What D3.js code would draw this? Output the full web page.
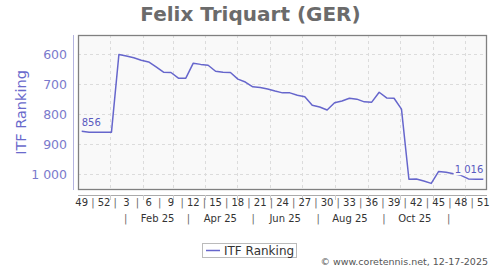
<!DOCTYPE html>
<html><head><meta charset="utf-8">
<script src="https://cdn.jsdelivr.net/npm/d3@7"></script>
<style>body{margin:0;background:#fff}svg{display:block;font-family:"DejaVu Sans",sans-serif}</style>
</head><body><div id="chart"></div>
<script>
// ---- data ----
const title = "Felix Triquart (GER)";
const seriesName = "ITF Ranking";
// ISO week numbers, week 49/2024 .. week 51/2025
const weeks = [49,50,51,52,1,2,3,4,5,6,7,8,9,10,11,12,13,14,15,16,17,18,19,20,21,22,23,24,25,26,27,28,29,30,31,32,33,34,35,36,37,38,39,40,41,42,43,44,45,46,47,48,49,50,51];
const ranking = [856,859,859,859,859,600,605,611,619,625,641,659,660,679,679,629,633,636,656,659,660,682,692,708,710,715,722,728,728,736,741,769,775,785,761,755,746,749,758,759,726,745,746,782,1016,1015,1022,1030,990,993,998,1003,1015,1016,1016];
const yTicks = [600,700,800,900,1000];
const weekTickLabels = ["49","52","3","6","9","12","15","18","21","24","27","30","33","36","39","42","45","48","51"];
const monthLabels = ["Feb 25","Apr 25","Jun 25","Aug 25","Oct 25"];
const monthLabelDates = ["2025-02-15","2025-04-15","2025-06-15","2025-08-15","2025-10-15"];
const monthSepDates = ["2025-01-16","2025-03-16","2025-05-16","2025-07-16","2025-09-16","2025-11-16"];
const gridMonthDates = ["2025-01-01","2025-02-01","2025-03-01","2025-04-01","2025-05-01","2025-06-01","2025-07-01","2025-08-01","2025-09-01","2025-10-01","2025-11-01","2025-12-01"];
const firstWeekMonday = "2024-12-02";
const domainEnd = "2025-12-22";
const credit = "© www.coretennis.net, 12-17-2025";

// ---- layout ----
const W = 500, H = 270;
const plot = {l: 78, r: 487, t: 35, b: 190};
const lineColor = "#6666cc";
const DAY = 86400000;
const t0 = new Date(firstWeekMonday + "T00:00:00Z");
const weekDate = i => new Date(t0.getTime() + (7 * i + 3.5) * DAY);
const pd = s => new Date(s + "T00:00:00Z");

const svg = d3.select("#chart").append("svg").attr("width", W).attr("height", H);

const x = d3.scaleUtc().domain([t0, pd(domainEnd)]).range([plot.l, plot.r]);
const y = d3.scaleLinear().domain([535, 1052]).range([plot.t, plot.b]);
const loc = d3.formatLocale({decimal: ".", thousands: "\u2009", grouping: [3], currency: ["", ""]});
const fmt = v => loc.format(",")(v).replace("\u2009", " ");

// title
svg.append("text").attr("x", 250.5).attr("y", 21).attr("text-anchor", "middle")
  .attr("font-size", 20).attr("font-weight", "bold").attr("fill", "#6b6b6b").text(title);

// plot background
svg.append("rect").attr("x", plot.l).attr("y", plot.t).attr("width", plot.r - plot.l).attr("height", plot.b - plot.t)
  .attr("fill", "#f9f9f9");

// grid
const grid = svg.append("g").attr("stroke", "#dcdcdc").attr("stroke-dasharray", "3,3").attr("stroke-width", 1);
yTicks.forEach(v => grid.append("line").attr("x1", plot.l).attr("x2", plot.r)
  .attr("y1", Math.round(y(v)) + 0.5).attr("y2", Math.round(y(v)) + 0.5));
gridMonthDates.forEach(d => grid.append("line").attr("y1", plot.t).attr("y2", plot.b)
  .attr("x1", Math.round(x(pd(d))) + 0.5).attr("x2", Math.round(x(pd(d))) + 0.5));

// frame
svg.append("rect").attr("x", plot.l + 0.5).attr("y", plot.t + 0.5).attr("width", plot.r - plot.l - 1).attr("height", plot.b - plot.t - 1)
  .attr("fill", "none").attr("stroke", "#808080").attr("stroke-width", 1.3);

// y axis
svg.append("line").attr("x1", 73.5).attr("x2", 73.5).attr("y1", plot.t).attr("y2", plot.b)
  .attr("stroke", "#b4b4e0").attr("stroke-width", 1);
const yl = svg.append("g").attr("font-size", 12.5).attr("fill", "#7a7acc").attr("text-anchor", "end");
yTicks.forEach(v => yl.append("text").attr("x", 67).attr("y", y(v)).attr("dy", "0.35em").text(fmt(v)));
svg.append("text").attr("transform", `translate(26,${(plot.t + plot.b) / 2}) rotate(-90)`)
  .attr("text-anchor", "middle").attr("font-size", 14.5).attr("fill", "#6a6acc").text(seriesName);

// x axis
svg.append("line").attr("x1", plot.l).attr("x2", plot.r).attr("y1", 195.5).attr("y2", 195.5)
  .attr("stroke", "#aaa").attr("stroke-width", 1);
gridMonthDates.forEach(d => svg.append("line").attr("y1", 195).attr("y2", 200)
  .attr("x1", Math.round(x(pd(d))) + 0.5).attr("x2", Math.round(x(pd(d))) + 0.5).attr("stroke", "#ccc"));
const xl = svg.append("g").attr("font-size", 10).attr("fill", "#333").attr("text-anchor", "middle");
weekTickLabels.forEach((lab, k) => {
  const i = k * 3;
  xl.append("text").attr("x", x(weekDate(i))).attr("y", 206).text(lab);
  if (k < weekTickLabels.length - 1)
    xl.append("text").attr("x", (x(weekDate(i)) + x(weekDate(i + 3))) / 2).attr("y", 206).attr("fill", "#666").text("|");
});
monthLabels.forEach((lab, k) => xl.append("text").attr("x", x(pd(monthLabelDates[k]))).attr("y", 222).text(lab));
monthSepDates.forEach(d => xl.append("text").attr("x", x(pd(d))).attr("y", 222).attr("fill", "#666").text("|"));

// line
const pts = ranking.map((v, i) => ({d: weekDate(i), v}));
svg.append("path").datum(pts).attr("fill", "none").attr("stroke", lineColor).attr("stroke-width", 1.5)
  .attr("stroke-linejoin", "round")
  .attr("d", d3.line().x(p => x(p.d)).y(p => y(p.v)));

// point labels
const first = pts[0], last = pts[pts.length - 1];
svg.append("text").attr("x", x(first.d)).attr("y", y(first.v) - 5).attr("font-size", 10).attr("fill", "#5a5abf").text(fmt(first.v));
const lt = svg.append("text").attr("x", x(last.d)).attr("y", y(last.v) - 6).attr("text-anchor", "end")
  .attr("font-size", 10).attr("fill", "#5a5abf").text(fmt(last.v));
const bb = lt.node().getBBox();
svg.append("rect").attr("x", bb.x - 1).attr("y", bb.y + 1).attr("width", bb.width + 2).attr("height", bb.height - 1).attr("fill", "#f9f9f9");
lt.raise();

// legend
const lg = svg.append("g");
lg.append("rect").attr("x", 202.5).attr("y", 243.5).attr("width", 94).attr("height", 14).attr("fill", "#fff").attr("stroke", "#bbb");
lg.append("line").attr("x1", 206).attr("x2", 220).attr("y1", 250.5).attr("y2", 250.5).attr("stroke", lineColor).attr("stroke-width", 1.5);
lg.append("text").attr("x", 224).attr("y", 255).attr("font-size", 12).attr("fill", "#333").text(seriesName);

// credit
svg.append("text").attr("x", 488).attr("y", 265).attr("text-anchor", "end").attr("font-size", 9.5).attr("fill", "#555").text(credit);
</script></body></html>
